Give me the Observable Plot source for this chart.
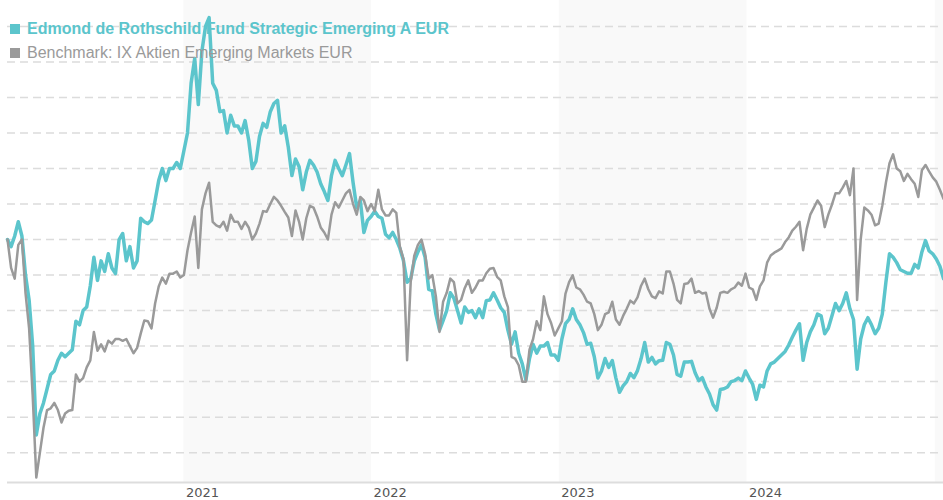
<!DOCTYPE html>
<html><head><meta charset="utf-8">
<script src="https://cdn.jsdelivr.net/npm/d3@7"></script>
<script src="https://cdn.jsdelivr.net/npm/@observablehq/plot@0.6"></script>
<style>
body{margin:0;background:#fff;}
#wrap{position:relative;width:943px;height:500px;}
.legend{position:absolute;left:10px;top:17px;font-family:"Liberation Sans",Arial,sans-serif;font-size:16px;line-height:24px;z-index:2;white-space:nowrap;}
.legend .sq{display:inline-block;width:10px;height:10px;margin-right:7px;vertical-align:0px;}
.fundL{color:#5cc5cc;font-weight:bold;}
.benchL{color:#9a9a9a;}
</style></head>
<body><div id="wrap"></div>
<script>
const startDate = "2020-01-24";
const endDate = "2025-01-17";
const seriesNames = ["Edmond de Rothschild Fund Strategic Emerging A EUR", "Benchmark: IX Aktien Emerging Markets EUR"];
const fund = [
130,128,131,135,131,120,113,100,75,81,
84,88,92,93,96,98,97,98,99,107,
106,110,111,117,125,118.5,124,121,126,122,
120.4,130,131.7,124,128,122,124,136,135,134.5,
135.5,141,146.6,150,146.6,150,150,151.7,150,155,
160,174,181,168,183,190,192.5,174,172,166,
166.3,160,165,162,162,160,163.5,158,150,152,
159,162.7,161.6,166,168.3,169.2,160,162,156,148,
152.7,150.5,144,149,152.3,151,149,145.7,143.5,141,
148,152.3,150,148,151,154.2,146,139,141,132,
135.4,136.5,138,136.5,136,131.5,130.5,132,130,127.5,
124,118,119,124,126.5,128.5,125,116,115.6,109,
104.5,107.2,110,115,113.5,110,106.5,111,109.5,110,
108,110.5,108,112.8,113,115,113,110.8,109.5,104.5,
100.5,104,98,95,90.5,96.5,100.5,98,100,100,
101,97.5,97.5,96,102,106.3,107.5,110.5,107.5,106,
103.8,100.5,100.8,97,91,93,96.5,94,95.9,91,
87,88.8,90,92.3,91.1,93.1,96.5,101,95.5,96.8,
95,95.9,96,101,100.5,97.5,92,91.5,95.5,95.5,
95.7,92.5,90.3,91.1,88.5,86.5,83.5,82,87.8,88,
88.5,90,90.3,91,90.3,93,91,89.2,85,89,
88.5,93,95,95.5,96.5,97.5,98.5,100.3,102.5,104.5,
106.3,96,101,104,106,109,108.5,103.5,105,108.5,
112,110,112,115,110.5,107.5,93.5,102,106,108,
106,103.5,105,109,118,126,125,123.5,121.5,121,
120.5,120.5,123,122,126.5,129.7,126.8,126,124.5,122.5,
119];
const benchmark = [
130,122,119,128.5,130,115,105,86,63,70,
77,82,82.5,84,82,78.5,81,81.8,82,92,
90,91,94,96,104,98.7,100.5,98.5,101.5,100.7,
102,102,101.5,102,100,98,99.5,103.5,107.2,107,
105,112,116.8,119.3,117.6,120.4,120.4,121,119.3,120,
127,132,136.5,122,138.5,143,146,135,134,133.5,
135,132.5,137,135,135,133,135,133.4,130,131.7,
134.5,138,137.8,140,142,141,139.5,137.8,136.2,131,
138.2,135,130,136,139.5,139,136.5,133.4,132,130,
137,140.5,139,141,143,144,140,137,142,141,
138,140,138,144,138.5,136.8,136.8,138.5,137.5,128,
124.5,96,118,125.5,128.5,130,126,119,120,114,
104,112.5,115,119,118,112,113,116.3,118.5,115,
116.5,118.5,118.5,120.5,121.8,122,119.5,118.5,114,111,
97,96.5,94.6,90,90,99,102,107,104.5,114,
109,106.5,103,105,107,114.8,118,119.9,116.5,116,
114.5,112.5,112,109,104.5,106,109,109.5,112.5,107.5,
106,108.5,110.5,112.8,112,113.7,117,119,116,114,
113.5,115.4,114.8,121,121,117.6,113,112,117.5,117.7,
119,115,115.5,114.8,115,110.5,108,110.8,115,115.3,
115,116,116.5,117.9,117,120.4,116.5,116,113,116.8,
118.5,123.5,125.5,126.3,126.9,127.5,129.3,130.6,132.5,133.6,
135,127,133,137,139,141,139.5,133.5,137,139.8,
143,143,144.6,146.5,142.5,150,113,130,139,138.2,
137,134,134.5,139.5,146,151.5,154,150,149.2,146.5,
148.5,147,145.7,142,149.5,151,149.2,147.5,146.3,144,
141.5];
const yearTicks = ["2021-01-01","2022-01-01","2023-01-01","2024-01-01"];
const yearLabels = ["2021","2022","2023","2024"];
const shadedStart = ["2021-01-01","2023-01-01","2025-01-01"];
const shadedEnd = ["2022-01-01","2024-01-01","2025-01-17"];
const gridValues = [70,80,90,100,110,120,130,140,150,160,170,180,190];
const yDomain = [61.6, 197.3];

const teal = "#5cc5cc", gray = "#9a9a9a";
const start = new Date(startDate);
const dates = fund.map((_, i) => d3.utcDay.offset(start, 7 * i));
const fundData = fund.map((v, i) => ({date: dates[i], value: v}));
const benchData = benchmark.map((v, i) => ({date: dates[i], value: v}));
const bands = shadedStart.map((s, i) => ({start: new Date(s), end: new Date(shadedEnd[i])}));
const ticks = yearTicks.map(d => new Date(d));

const chart = Plot.plot({
  width: 943, height: 500,
  marginLeft: 7, marginRight: 0, marginTop: 0, marginBottom: 18,
  x: {type: "utc", domain: [new Date(startDate), new Date(endDate)]},
  y: {domain: yDomain, axis: null},
  style: {fontFamily: "DejaVu Sans", fontSize: "13px", color: "#555", background: "transparent"},
  marks: [
    Plot.rect(bands, {x1: "start", x2: "end", fill: "#f9f9f9"}),
    Plot.ruleY(gridValues, {stroke: "#dcdcdc", strokeWidth: 1.5, strokeDasharray: "8,5"}),
    Plot.ruleY([yDomain[0]], {stroke: "#dddddd", strokeWidth: 2}),
    Plot.lineY(fundData, {x: "date", y: "value", stroke: teal, strokeWidth: 3.5}),
    Plot.lineY(benchData, {x: "date", y: "value", stroke: gray, strokeWidth: 2.5}),
    Plot.axisX(ticks, {tickSize: 0, tickPadding: 5, textAnchor: "start", dx: 2,
      tickFormat: d => yearLabels[ticks.findIndex(t => +t === +d)], fill: "#555"})
  ]
});
const wrap = document.getElementById("wrap");
wrap.appendChild(chart);
const leg = document.createElement("div");
leg.className = "legend";
leg.innerHTML = `<div class="fundL"><span class="sq" style="background:${teal}"></span>${seriesNames[0]}</div>` +
  `<div class="benchL"><span class="sq" style="background:${gray}"></span>${seriesNames[1]}</div>`;
wrap.appendChild(leg);
</script></body></html>
